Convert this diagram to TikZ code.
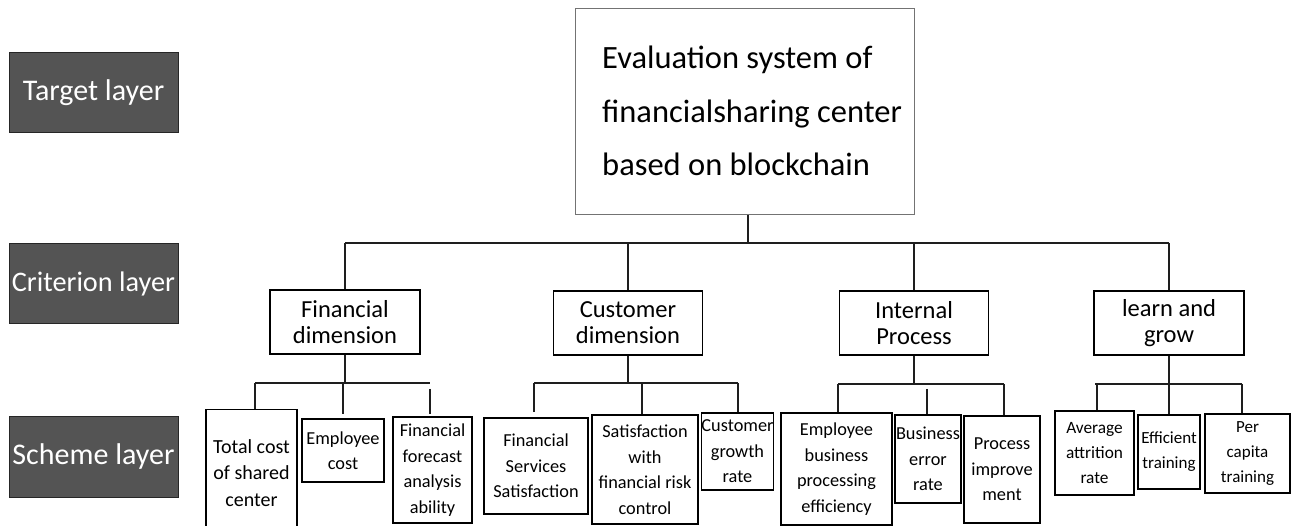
\documentclass[tikz,border=0pt]{standalone}
\usepackage{fontspec}
\setmainfont{Carlito}
\definecolor{layerfill}{RGB}{84,84,84}
\definecolor{linecol}{RGB}{30,30,30}
\begin{document}
\begin{tikzpicture}[x=1pt,y=-1pt,
  layer/.style={draw=black!85, line width=1pt, fill=layerfill, text=white, minimum width=169pt, minimum height=80pt, inner sep=0pt, font=\fontsize{30}{34}\selectfont},
  crit/.style={draw=black, line width=1.3pt, minimum width=150pt, minimum height=64pt, align=center, inner sep=0pt, font=\fontsize{24.5}{26}\selectfont},
  scheme/.style={draw=black, line width=1.5pt, align=center, inner sep=0pt, font=\fontsize{18.3}{25.5}\selectfont},
  conn/.style={draw=linecol, line width=1.2pt}]
\useasboundingbox (0,0) rectangle (1291,526);

% layer labels
\node[layer] (tl) at (93.5,93) {Target layer};
\node[layer, font=\fontsize{28.3}{34}\selectfont] (cl) at (93.5,284) {Criterion layer};
\node[layer] (sl) at (93.5,457) {Scheme layer};

% goal
\node[draw=black!55, line width=1pt, minimum width=339pt, minimum height=206pt, inner sep=0pt] (goal) at (744.5,112) {};
\node[anchor=north west, align=left, inner sep=0pt, font=\fontsize{32.5}{53.5}\selectfont] (goaltext) at (602,46) {Evaluation system of\\financialsharing center\\based on blockchain};

% criteria
\node[crit] (fin) at (345,322) {Financial\\dimension};
\node[crit, minimum width=149pt] (cus) at (628,323) {Customer\\dimension};
\node[crit, minimum width=149pt] (int) at (914,323) {Internal\\Process};
\node[crit] (lrn) at (1169,323) {learn and\\grow};

% scheme
\node[scheme, minimum width=91pt, minimum height=127pt, font=\fontsize{20}{26.5}\selectfont] (s11) at (251.5,473) {Total cost\\of shared\\center};
\node[scheme, minimum width=82pt, minimum height=63pt] (s12) at (343,450.5) {Employee\\cost};
\node[scheme, minimum width=79pt, minimum height=106pt] (s13) at (432.5,470) {Financial\\forecast\\analysis\\ability};
\node[scheme, minimum width=104pt, minimum height=96pt] (s21) at (536,466) {Financial\\Services\\Satisfaction};
\node[scheme, minimum width=106pt, minimum height=109pt] (s22) at (645,469.5) {Satisfaction\\with\\financial risk\\control};
\node[scheme, minimum width=71pt, minimum height=77pt] (s23) at (737.5,451.5) {Customer\\growth\\rate};
\node[scheme, minimum width=111pt, minimum height=112pt] (s31) at (836.5,469) {Employee\\business\\processing\\efficiency};
\node[scheme, minimum width=66pt, minimum height=88pt] (s32) at (928,459) {Business\\error\\rate};
\node[scheme, minimum width=76pt, minimum height=107pt] (s33) at (1002,469.5) {Process\\improve\\ment};
\node[scheme, minimum width=79pt, minimum height=84pt, font=\fontsize{17.3}{25}\selectfont] (s41) at (1094.5,453) {Average\\attrition\\rate};
\node[scheme, minimum width=62pt, minimum height=74pt, font=\fontsize{17}{25}\selectfont] (s42) at (1169,452) {Efficient\\training};
\node[scheme, minimum width=85pt, minimum height=79pt, font=\fontsize{17}{25}\selectfont] (s43) at (1247.5,453.5) {Per\\capita\\training};

% goal to criteria
\coordinate (topjoin) at (748,243);
\draw[conn] (goal.south -| topjoin) -- (topjoin);
\draw[conn] (fin.north |- topjoin) -- (lrn.north |- topjoin);
\foreach \c in {fin,cus,int,lrn} \draw[conn] (\c.north |- topjoin) -- (\c.north);

% financial branch
\coordinate (b1) at (345,383);
\coordinate (d11) at (255,383);
\coordinate (d12) at (343,383);
\coordinate (d13) at (430,383);
\draw[conn] (fin.south) -- (b1);
\draw[conn] (d11) -- (d13);
\draw[conn] (d11) -- (d11 |- s11.north);
\draw[conn, shorten >=4pt] (d12) -- (d12 |- s12.north);
\draw[conn, shorten <=6pt, shorten >=2pt] (d13) -- (d13 |- s13.north);

% customer branch
\coordinate (b2) at (628,383);
\coordinate (d21) at (534,383);
\coordinate (d22) at (642,383);
\coordinate (d23) at (738,383);
\draw[conn] (cus.south) -- (b2);
\draw[conn] (d21) -- (d23);
\draw[conn, shorten >=5pt] (d21) -- (d21 |- s21.north);
\draw[conn] (d22) -- (d22 |- s22.north);
\draw[conn] (d23) -- (d23 |- s23.north);

% internal branch
\coordinate (b3) at (914,384);
\coordinate (d31) at (838,384);
\coordinate (d32) at (927,384);
\coordinate (d33) at (1004,384);
\draw[conn] (int.south) -- (b3);
\draw[conn] (d31) -- (d33);
\draw[conn] (d31) -- (d31 |- s31.north);
\draw[conn, shorten <=5pt] (d32) -- (d32 |- s32.north);
\draw[conn] (d33) -- (d33 |- s33.north);

% learn branch
\coordinate (b4) at (1169,384);
\coordinate (d41) at (1097,384);
\coordinate (d43) at (1242,384);
\draw[conn] (lrn.south) -- (b4);
\draw[conn] (1095,384) -- (d43);
\draw[conn] (d41) -- (d41 |- s41.north);
\draw[conn] (b4) -- (s42.north);
\draw[conn] (d43) -- (d43 |- s43.north);
\end{tikzpicture}
\end{document}
